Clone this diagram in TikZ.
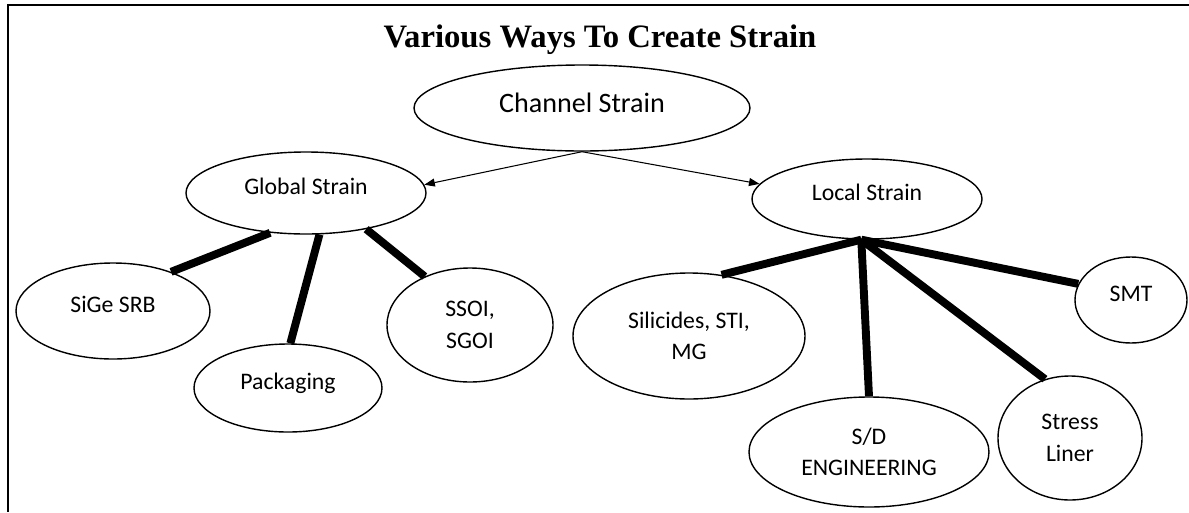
\documentclass[tikz,border=0pt]{standalone}
\usepackage{fontspec}
\setmainfont{Carlito}
\newfontfamily\titlefont{Liberation Serif}
\usetikzlibrary{shapes.geometric, arrows.meta}
\tikzset{
    oval/.style={draw, ellipse, inner sep=0pt, line width=0.8pt, align=center,
        font=\fontsize{13.5}{18}\selectfont},
    lift/.style={text height=10pt, text depth=8pt},
    branch/.style={line width=4.5pt},
    feed/.style={-{Triangle[length=6pt, width=4.5pt]}, line width=0.6pt}
}

\begin{document}
\begin{tikzpicture}
    \useasboundingbox (0, 0) rectangle (23.78, -10.24);
    % Frame
    \draw[line width=1.2pt] (23.78, -0.1) -- (0.16, -0.1) -- (0.16, -10.24);
    % Title
    \node[anchor=center] (title) at (12.0, -0.80)
        {\titlefont\fontsize{18.6}{22}\selectfont\bfseries Various Ways To Create Strain};
    % Root
    \node[oval, minimum width=6.72cm, minimum height=1.72cm, text height=12pt, text depth=7pt,
        font=\fontsize{16}{20}\selectfont] (chan) at (11.64, -2.16) {Channel Strain};
    % Second level
    \node[oval, lift, minimum width=4.80cm, minimum height=1.64cm] (glob) at (6.12, -3.86) {Global Strain};
    \node[oval, lift, minimum width=4.60cm, minimum height=1.60cm] (loc) at (17.34, -3.98) {Local Strain};
    % Global strain leaves
    \node[oval, lift, minimum width=3.88cm, minimum height=1.92cm] (sige) at (2.26, -6.22) {SiGe SRB};
    \node[oval, lift, minimum width=3.76cm, minimum height=1.76cm] (pack) at (5.76, -7.76) {Packaging};
    \node[oval, minimum width=3.32cm, minimum height=2.28cm] (ssoi) at (9.40, -6.50) {SSOI,\\SGOI};
    % Local strain leaves
    \node[oval, minimum width=4.64cm, minimum height=2.52cm] (sili) at (13.78, -6.72) {Silicides, STI,\\MG};
    \node[oval, minimum width=4.80cm, minimum height=2.20cm] (sd) at (17.38, -9.04) {S/D\\ENGINEERING};
    \node[oval, minimum width=2.88cm, minimum height=2.48cm] (stress) at (21.40, -8.76) {Stress\\Liner};
    \node[oval, lift, minimum width=2.24cm, minimum height=1.72cm] (smt) at (22.62, -6.00) {SMT};
    % Arrows
    \draw[feed] (chan.south) -- (glob.4);
    \draw[feed] (chan.south) -- (loc.172);
    % Thick links
    \draw[branch] (glob.228) -- (sige.34);
    \draw[branch] (glob.288) -- (pack.87);
    \draw[branch] (glob.329) -- (ssoi.133);
    \coordinate (hub) at (loc.262);
    \draw[branch] (hub) -- (sili.62);
    \draw[branch] (hub) -- (sd.90);
    \draw[branch] (hub) -- (stress.113);
    \draw[branch] (hub) -- (smt.163);
\end{tikzpicture}
\end{document}
